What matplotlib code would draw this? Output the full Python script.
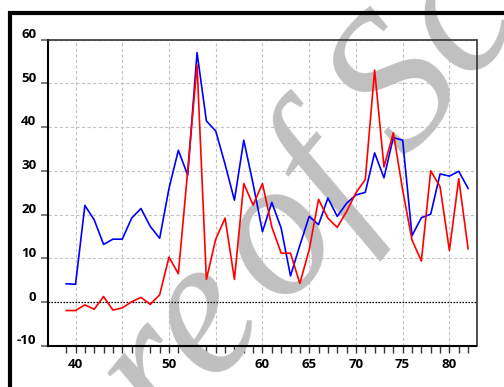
import numpy as np
import matplotlib
matplotlib.use("Agg")
import matplotlib.pyplot as plt
from matplotlib.patches import Rectangle
from matplotlib.transforms import ScaledTranslation

years = list(range(39, 83))

blue_series = [4.2, 4.1, 22.1, 18.8, 13.2, 14.4, 14.4, 19.2, 21.4, 17.3,
               14.6, 26.0, 34.7, 29.0, 57.0, 41.4, 39.1, 31.5, 23.3, 37.0,
               27.0, 16.1, 22.8, 16.9, 6.0, 13.0, 19.6, 17.7, 23.8, 19.6,
               22.6, 24.5, 25.1, 34.1, 28.4, 37.6, 37.0, 15.2, 19.3, 20.1,
               29.3, 28.8, 29.9, 26.0]

red_series = [-1.9, -1.9, -0.6, -1.6, 1.3, -1.8, -1.3, 0.1, 1.1, -0.5,
              1.7, 10.3, 6.5, 30.0, 54.2, 5.2, 14.4, 19.2, 5.2, 27.1,
              22.2, 27.1, 17.2, 11.2, 11.2, 4.3, 12.0, 23.5, 19.2, 17.1,
              20.7, 25.0, 28.0, 53.0, 30.9, 38.7, 25.6, 14.2, 9.4, 30.0,
              26.4, 11.8, 28.2, 12.2]

x_ticks = [40, 45, 50, 55, 60, 65, 70, 75, 80]
y_ticks = [-10, 0, 10, 20, 30, 40, 50, 60]

W, H, DPI = 504, 387, 100
fig = plt.figure(figsize=(W / DPI, H / DPI), dpi=DPI)
ax = fig.add_axes([47.5 / W, 41 / H, 429 / W, 306.5 / H])

tick_font = dict(family="Open Sans", weight="bold", size=9.5)

ax.plot(years, blue_series, color="#0000ff", lw=1.2, zorder=3)
ax.plot(years, red_series, color="#ff0000", lw=1.2, zorder=3)
ax.axhline(0, color="black", lw=0.9, ls=(0, (1.2, 1.2)), zorder=2)

ax.set_xlim(37.0, 82.9)
ax.set_ylim(-10, 60)
ax.set_axisbelow(True)
ax.grid(True, color="#c4c4c4", lw=0.8, ls=(0, (3, 2)))

ax.set_xticks(x_ticks)
ax.set_xticks(years, minor=True)
ax.set_yticks(y_ticks)
ax.set_xticklabels([str(v) for v in x_ticks], **tick_font)
ax.set_yticklabels([str(v) for v in y_ticks], **tick_font)
ax.tick_params(axis="x", which="both", direction="out", length=5,
               width=1, color="#333333", pad=4)
ax.tick_params(axis="y", direction="out", length=5, width=1.2,
               color="#666666", pad=3)
for lab in ax.get_yticklabels():
    lab.set_verticalalignment("bottom")
    lab.set_transform(lab.get_transform()
                      + ScaledTranslation(0, -1 / 72, fig.dpi_scale_trans))

for side in ("left", "bottom"):
    ax.spines[side].set_linewidth(1.5)
    ax.spines[side].set_color("black")
for side in ("top", "right"):
    ax.spines[side].set_linewidth(1.2)
    ax.spines[side].set_color("#333333")

# page frame
fig.patches.append(Rectangle((10.3 / W, -0.2), 1.2, (H - 12.7) / H + 0.2,
                             transform=fig.transFigure, fill=False,
                             edgecolor="black", lw=3, zorder=10))

# diagonal stamp across the page, laid out word by word in pixels
deg = 50
ang = np.deg2rad(deg)
u = np.array([np.cos(ang), np.sin(ang)])
em = 142 * DPI / 72
start_of = np.array([282.0, 80.0])
gap_left, gap_right = 18, 40
stamp = dict(family="Liberation Serif", style="italic", size=142,
             color="#c0c0c0", rotation=deg, rotation_mode="anchor",
             va="baseline", transform=fig.transFigure, zorder=1,
             clip_on=False)
pieces = [("Picture", "right", start_of - gap_left * u),
          ("of", "left", start_of),
          ("Science", "left", start_of + (0.778 * em + gap_right) * u)]
for txt, ha, p in pieces:
    ax.text(p[0] / W, p[1] / H, txt, ha=ha, **stamp)

fig.savefig("out.png", dpi=DPI)
